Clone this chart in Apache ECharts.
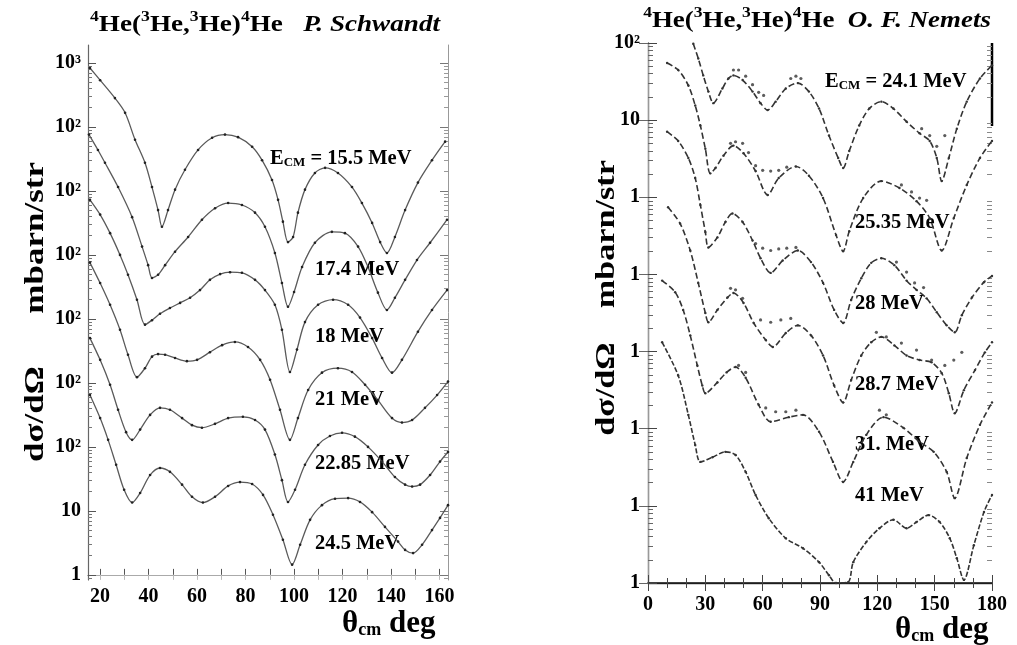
<!DOCTYPE html>
<html><head><meta charset="utf-8">
<script src="https://cdn.jsdelivr.net/npm/echarts@6/dist/echarts.min.js"></script>
<style>html,body{margin:0;padding:0;background:#fff}#c{width:1017px;height:645px}</style>
</head><body><div id="c"></div>
<script>
// ---- tick labels ----
const leftYLabels = ['1','10','10²','10²','10²','10²','10²','10²','10³'];
const rightYLabels = ['1','1','1','1','1','1','10','10²'];
const leftXTicks = [20,40,60,80,100,120,140,160];
const rightXTicks = [0,30,60,90,120,150,180];

// ---- left panel (P. Schwandt): [theta_cm deg, plotted decade] ----
const curve155 = [[15.8,7.92],[20.0,7.73],[26.1,7.45],[30.3,7.22],[34.4,6.80],[38.5,6.44],[41.4,6.06],[43.9,5.70],[45.5,5.44],[48.0,5.70],[50.9,6.02],[55.0,6.33],[60.4,6.64],[66.2,6.83],[71.5,6.88],[76.9,6.84],[82.7,6.69],[86.8,6.48],[90.9,6.17],[93.4,5.86],[95.4,5.52],[97.5,5.20],[99.6,5.28],[101.6,5.66],[104.5,6.02],[108.6,6.28],[112.8,6.36],[118.1,6.28],[123.9,6.06],[128.0,5.81],[132.2,5.50],[135.5,5.20],[138.3,5.03],[141.6,5.28],[145.8,5.70],[151.1,6.13],[156.9,6.48],[162.3,6.77]];
const curve174 = [[15.4,6.88],[19.1,6.64],[22.0,6.44],[27.4,6.06],[33.2,5.59],[37.3,5.13],[39.8,4.84],[41.4,4.64],[43.9,4.69],[46.8,4.84],[50.9,5.05],[56.3,5.28],[62.0,5.55],[67.4,5.73],[72.8,5.81],[78.5,5.78],[83.9,5.66],[88.0,5.44],[92.1,5.03],[95.0,4.56],[97.5,4.19],[100.0,4.42],[103.3,4.81],[108.6,5.19],[115.6,5.36],[121.0,5.34],[126.4,5.13],[130.5,4.81],[134.6,4.41],[138.3,4.14],[141.6,4.33],[145.8,4.61],[150.7,4.92],[156.1,5.19],[163.1,5.55]];
const curve18 = [[15.8,5.86],[20.0,5.63],[24.1,5.34],[28.2,5.00],[31.5,4.69],[35.2,4.30],[38.5,3.91],[41.4,3.98],[44.7,4.08],[48.8,4.17],[53.0,4.25],[57.1,4.33],[61.2,4.45],[65.3,4.61],[69.5,4.70],[73.6,4.73],[78.5,4.72],[83.9,4.61],[88.0,4.45],[92.1,4.22],[95.0,3.83],[98.3,3.17],[101.2,3.52],[104.5,3.95],[109.9,4.22],[116.1,4.30],[122.3,4.22],[127.2,4.02],[132.2,3.70],[136.3,3.39],[140.4,3.16],[144.5,3.36],[151.1,3.80],[156.9,4.14],[163.1,4.45]];
const curve21 = [[15.8,4.88],[20.0,4.56],[24.1,4.22],[28.2,3.83],[31.5,3.44],[35.2,3.09],[38.5,3.23],[41.4,3.41],[43.9,3.45],[46.8,3.44],[50.9,3.39],[55.8,3.34],[60.0,3.36],[65.3,3.48],[70.3,3.59],[75.6,3.64],[81.0,3.56],[86.0,3.36],[90.1,3.05],[94.2,2.58],[98.3,2.11],[101.6,2.45],[105.8,2.89],[111.5,3.16],[118.1,3.23],[123.9,3.17],[129.3,2.97],[134.6,2.73],[140.4,2.45],[144.5,2.38],[148.7,2.42],[154.0,2.61],[159.0,2.81],[163.5,3.02]];
const curve2285 = [[15.8,3.70],[20.0,3.36],[24.1,2.97],[27.4,2.58],[30.7,2.23],[33.2,2.11],[36.5,2.27],[40.6,2.50],[44.7,2.61],[48.8,2.58],[53.8,2.45],[57.9,2.34],[62.0,2.30],[67.4,2.36],[72.8,2.45],[78.9,2.47],[83.9,2.42],[88.0,2.27],[92.1,1.88],[95.0,1.48],[97.5,1.14],[100.4,1.33],[104.5,1.72],[109.9,2.03],[114.8,2.17],[119.8,2.22],[125.1,2.16],[130.5,2.00],[136.3,1.77],[141.6,1.53],[145.8,1.41],[148.7,1.38],[152.0,1.41],[156.1,1.56],[160.2,1.77],[163.5,1.92]];
const curve245 = [[15.8,2.81],[20.0,2.45],[23.3,2.11],[26.6,1.72],[29.9,1.33],[33.2,1.13],[36.5,1.28],[40.6,1.56],[44.7,1.67],[48.8,1.61],[53.8,1.41],[57.9,1.22],[62.4,1.13],[67.4,1.22],[72.8,1.39],[77.7,1.45],[82.7,1.42],[87.2,1.25],[91.3,0.94],[95.4,0.55],[99.2,0.16],[102.5,0.47],[106.6,0.86],[111.5,1.09],[116.9,1.19],[122.3,1.20],[127.2,1.14],[132.2,0.98],[137.5,0.75],[142.9,0.52],[145.8,0.39],[149.1,0.34],[152.8,0.47],[156.9,0.70],[160.2,0.89],[163.5,1.09]];

// ---- right panel (O. F. Nemets): theory curves ----
const curve241 = [[23.7,6.99],[26.3,6.80],[28.9,6.58],[31.6,6.37],[34.2,6.22],[38.9,6.41],[42.1,6.54],[44.7,6.58],[49.5,6.52],[54.7,6.37],[58.9,6.22],[62.6,6.13],[66.8,6.24],[72.1,6.41],[78.4,6.48],[84.2,6.37],[89.5,6.15],[94.7,5.80],[99.5,5.51],[102.1,5.38],[105.3,5.60],[110.5,5.93],[115.8,6.15],[122.1,6.24],[128.4,6.15],[135.3,5.98],[142.1,5.83],[147.4,5.73],[151.1,5.51],[153.7,5.21],[157.4,5.51],[161.6,5.89],[166.8,6.24],[173.7,6.54],[180.0,6.71]];
const curve2535 = [[10.0,6.74],[15.8,6.65],[21.1,6.45],[24.7,6.19],[27.4,5.93],[30.0,5.63],[32.6,5.31],[35.3,5.38],[39.5,5.54],[44.7,5.67],[50.0,5.57],[56.3,5.34],[62.6,5.03],[68.4,5.25],[77.4,5.40],[84.2,5.28],[91.6,4.99],[98.4,4.51],[102.1,4.30],[105.3,4.56],[112.6,4.99],[122.1,5.21],[131.6,5.12],[140.5,4.95],[147.4,4.73],[153.7,4.31],[160.0,4.73],[166.8,5.16],[173.7,5.51],[180.0,5.73]];
const curve28 = [[10.0,5.85],[15.8,5.73],[21.1,5.51],[24.7,5.25],[27.4,4.90],[30.0,4.55],[31.6,4.35],[36.3,4.48],[40.5,4.68],[44.2,4.79],[49.5,4.68],[54.7,4.44],[58.9,4.21],[64.2,4.02],[70.5,4.18],[78.4,4.31],[85.3,4.16],[91.6,3.89],[97.4,3.54],[102.1,3.37],[106.3,3.67],[111.6,3.95],[116.8,4.15],[122.1,4.21],[128.9,4.12],[135.3,3.92],[140.5,3.80],[145.8,3.69],[151.1,3.51],[156.3,3.34],[160.5,3.25],[164.2,3.47],[169.5,3.70],[175.8,3.90],[180.0,3.98]];
const curve287 = [[10.5,4.87],[16.8,4.66],[22.1,4.31],[26.3,3.89],[30.0,3.50],[31.6,3.38],[36.3,3.54],[41.6,3.70],[44.7,3.76],[50.0,3.63],[55.3,3.37],[61.6,3.15],[65.3,3.06],[72.1,3.24],[78.4,3.34],[85.3,3.21],[91.6,2.95],[97.4,2.56],[102.1,2.34],[106.3,2.63],[111.6,2.95],[116.8,3.12],[122.1,3.19],[128.9,3.08],[135.3,2.95],[142.1,2.89],[148.4,2.86],[153.7,2.72],[157.4,2.46],[160.5,2.20],[165.3,2.50],[171.1,2.76],[176.3,2.99],[180.0,3.12]];
const curve31 = [[7.4,3.92],[14.2,3.77],[18.4,3.54],[22.1,3.21],[25.8,2.82],[28.4,2.56],[30.0,2.46],[36.3,2.60],[41.1,2.73],[45.8,2.80],[51.1,2.66],[57.9,2.31],[64.2,2.09],[73.7,2.15],[81.1,2.18],[89.5,1.96],[96.8,1.57],[102.1,1.31],[107.4,1.57],[114.2,1.92],[123.2,2.15],[133.7,2.01],[142.1,1.83],[149.5,1.70],[156.3,1.44],[160.5,1.10],[166.8,1.62],[173.7,2.05],[180.0,2.34]];
const curve41 = [[7.4,3.12],[15.8,2.69],[21.1,2.18],[24.7,1.79],[27.4,1.57],[33.7,1.63],[40.5,1.70],[45.8,1.66],[51.1,1.44],[56.3,1.14],[63.2,0.84],[72.1,0.58],[81.1,0.45],[89.5,0.27],[94.7,0.10],[98.4,0.00],[104.7,0.01],[107.4,0.27],[114.2,0.53],[121.1,0.71],[128.4,0.82],[135.3,0.71],[140.5,0.79],[146.8,0.88],[152.6,0.79],[157.9,0.58],[161.6,0.32],[165.3,0.04],[170.5,0.49],[175.8,0.92],[180.0,1.14]];

// ---- right panel: measured points where they leave the curves ----
const pts241 = [[44.7,6.65],[47.4,6.65],[51.1,6.57],[54.7,6.46],[57.9,6.36],[60.5,6.32],[74.7,6.54],[77.4,6.57],[80.0,6.54],[143.2,5.89],[147.4,5.80],[151.1,5.66],[155.3,5.80]];
const pts2535 = [[43.2,5.70],[45.8,5.72],[49.5,5.70],[52.6,5.58],[56.3,5.41],[60.0,5.35],[64.2,5.34],[68.4,5.35],[72.6,5.39],[132.6,5.16],[137.9,5.07],[142.1,4.99],[145.8,4.96]];
const pts28 = [[56.3,4.40],[60.0,4.34],[64.2,4.31],[68.4,4.33],[72.6,4.34],[77.4,4.35],[130.0,4.16],[135.3,4.03],[139.5,3.89],[144.2,3.83]];
const pts287 = [[43.2,3.82],[45.8,3.80],[49.5,3.69],[58.9,3.41],[64.2,3.38],[69.5,3.41],[74.7,3.43],[119.5,3.25],[124.7,3.19],[132.6,3.11],[140.5,3.02],[148.4,2.89],[155.3,2.82],[160.0,2.89],[164.2,2.99]];
const pts31 = [[47.4,2.82],[51.1,2.73],[61.6,2.27],[66.8,2.22],[72.1,2.22],[77.4,2.24],[121.1,2.24],[124.7,2.18]];

const FONT = '"Liberation Serif","DejaVu Serif",serif';

function logMinor(lo, hi) {
  const out = [];
  for (let k = Math.floor(lo) - 1; k <= Math.ceil(hi); k++) {
    for (let m = 2; m <= 9; m++) {
      const v = k + Math.log10(m);
      if (v > lo && v < hi) out.push(+v.toFixed(4));
    }
  }
  return out;
}
const LMIN = -0.08, LMAX = 8.28, RMIN = 0, RMAX = 7;
const leftMajor = leftYLabels.map((_, i) => i);
const leftXMinor = []; for (let v = 20; v <= 160; v += 10) leftXMinor.push(v);

const chart = echarts.init(document.getElementById('c'), null, {renderer: 'canvas'});

const lblStyle = {fontFamily: FONT, fontWeight: 'bold', fontSize: 20, color: '#000'};

function leftLine(data) {
  return {type: 'line', xAxisIndex: 0, yAxisIndex: 0, data, smooth: 0.3,
    symbol: 'circle', symbolSize: 2.6, showSymbol: true,
    lineStyle: {color: '#5a5a5a', width: 1.3}, itemStyle: {color: '#222'},
    silent: true, animation: false};
}
function rightLine(data, dash) {
  return {type: 'line', xAxisIndex: 2, yAxisIndex: 2, data, smooth: 0.3,
    symbol: 'circle', symbolSize: 2.4, showSymbol: true,
    lineStyle: {color: '#333', width: 1.6, type: dash || [6, 3]}, itemStyle: {color: '#333'},
    silent: true, animation: false};
}
function rightPts(data) {
  return {type: 'scatter', xAxisIndex: 2, yAxisIndex: 2, data, symbolSize: 3.2,
    itemStyle: {color: '#333'}, silent: true, animation: false};
}

function txt(x, y, rich, parts, align, sx) {
  return {type: 'text', x, y, scaleX: sx || 1, silent: true,
    style: {text: parts, rich, align: align || 'left', verticalAlign: 'middle', fill: '#000'}};
}
function vtxt(x, y, text, sx) {
  return {type: 'text', x, y, rotation: Math.PI / 2, scaleX: sx, silent: true,
    style: {text, font: 'bold 28px ' + FONT, fill: '#000', align: 'center', verticalAlign: 'middle'}};
}
const richLbl = {
  b: {fontFamily: FONT, fontWeight: 'bold', fontSize: 20.5, fill: '#000', lineHeight: 24, verticalAlign: 'bottom'},
  s: {fontFamily: FONT, fontWeight: 'bold', fontSize: 13, fill: '#000', lineHeight: 14, verticalAlign: 'bottom'}
};
const richTitle = {
  n: {fontFamily: FONT, fontWeight: 'bold', fontSize: 23, fill: '#000', lineHeight: 27, verticalAlign: 'bottom'},
  p: {fontFamily: FONT, fontWeight: 'bold', fontSize: 15, fill: '#000', lineHeight: 15, verticalAlign: 'top'},
  i: {fontFamily: FONT, fontWeight: 'bold', fontStyle: 'italic', fontSize: 23, fill: '#000', lineHeight: 27, verticalAlign: 'bottom'}
};
const richAx = {
  b: {fontFamily: FONT, fontWeight: 'bold', fontSize: 31, fill: '#000', lineHeight: 34, verticalAlign: 'bottom'},
  s: {fontFamily: FONT, fontWeight: 'bold', fontSize: 18, fill: '#000', lineHeight: 16, verticalAlign: 'bottom'}
};
const titleHead = '{p|4}{n|He(}{p|3}{n|He,}{p|3}{n|He)}{p|4}{n|He}';

const option = {
  backgroundColor: '#fff',
  animation: false,
  grid: [
    {left: 88, top: 45, width: 360, height: 535},
    {left: 648, top: 43, width: 344, height: 540},
    {left: 88, top: 45, width: 360, height: 535},
    {left: 648, top: 43, width: 344, height: 540}
  ],
  xAxis: [
    {gridIndex: 0, type: 'value', min: 15, max: 163.5, position: 'bottom',
      axisLine: {lineStyle: {color: '#666', width: 1.2}},
      axisTick: {inside: true, length: 6, customValues: leftXMinor, lineStyle: {color: '#555'}},
      axisLabel: Object.assign({customValues: leftXTicks, margin: 7}, lblStyle),
      splitLine: {show: false}},
    {gridIndex: 0, type: 'value', min: 15, max: 163.5, position: 'top',
      axisLine: {lineStyle: {color: '#aaa', width: 1}},
      axisTick: {inside: true, length: 5, customValues: leftXMinor, lineStyle: {color: '#bbb'}},
      axisLabel: {show: false}, splitLine: {show: false}},
    {gridIndex: 1, type: 'value', min: 0, max: 180, interval: 30, position: 'bottom',
      axisLine: {lineStyle: {color: '#444', width: 1.4}},
      axisTick: {inside: true, length: 8, lineStyle: {color: '#444'}},
      minorTick: {show: true, splitNumber: 3, length: 5, lineStyle: {color: '#444'}},
      axisLabel: Object.assign({margin: 12}, lblStyle),
      splitLine: {show: false}},
    {gridIndex: 1, type: 'value', min: 0, max: 180, interval: 30, position: 'top',
      axisLine: {lineStyle: {color: '#111', width: 1.6}},
      axisTick: {inside: true, length: 8, lineStyle: {color: '#444'}},
      minorTick: {show: true, splitNumber: 3, length: 5, lineStyle: {color: '#444'}},
      axisLabel: {show: false}, splitLine: {show: false}},
    {gridIndex: 2, type: 'value', min: 15, max: 163.5, show: false},
    {gridIndex: 3, type: 'value', min: 0, max: 180, show: false}
  ],
  yAxis: [
    {gridIndex: 0, type: 'value', min: LMIN, max: LMAX, position: 'left',
      axisLine: {show: true, lineStyle: {color: '#666', width: 1.2}},
      axisTick: {inside: true, length: 8, customValues: leftMajor, lineStyle: {color: '#555'}},
      axisLabel: Object.assign({customValues: leftMajor, margin: 7,
        formatter: v => leftYLabels[Math.round(v)]}, lblStyle),
      splitLine: {show: false}},
    {gridIndex: 0, type: 'value', min: LMIN, max: LMAX, position: 'right',
      axisLine: {show: true, lineStyle: {color: '#999', width: 1}},
      axisTick: {inside: true, length: 8, customValues: leftMajor, lineStyle: {color: '#777'}},
      axisLabel: {show: false}, splitLine: {show: false}},
    {gridIndex: 1, type: 'value', min: RMIN, max: RMAX, interval: 1, position: 'left',
      axisLine: {show: true, lineStyle: {color: '#555', width: 1.3}},
      axisTick: {inside: true, length: 9, lineStyle: {color: '#444'}},
      axisLabel: Object.assign({margin: 8, formatter: v => rightYLabels[Math.round(v)]}, lblStyle),
      splitLine: {show: false}},
    {gridIndex: 1, type: 'value', min: RMIN, max: RMAX, interval: 1, position: 'right',
      axisLine: {show: true, lineStyle: {color: '#999', width: 1.2}},
      axisTick: {inside: true, length: 9, lineStyle: {color: '#666'}},
      axisLabel: {show: false}, splitLine: {show: false}},
    {gridIndex: 2, type: 'value', min: LMIN, max: LMAX, position: 'left',
      axisLine: {show: false},
      axisTick: {show: true, inside: true, length: 4, customValues: logMinor(LMIN, LMAX), lineStyle: {color: '#777'}},
      axisLabel: {show: false}, splitLine: {show: false}},
    {gridIndex: 2, type: 'value', min: LMIN, max: LMAX, position: 'right',
      axisLine: {show: false},
      axisTick: {show: true, inside: true, length: 4, customValues: logMinor(LMIN, LMAX), lineStyle: {color: '#999'}},
      axisLabel: {show: false}, splitLine: {show: false}},
    {gridIndex: 3, type: 'value', min: RMIN, max: RMAX, position: 'left',
      axisLine: {show: false},
      axisTick: {show: true, inside: true, length: 5, customValues: logMinor(RMIN, RMAX), lineStyle: {color: '#666'}},
      axisLabel: {show: false}, splitLine: {show: false}},
    {gridIndex: 3, type: 'value', min: RMIN, max: RMAX, position: 'right',
      axisLine: {show: false},
      axisTick: {show: true, inside: true, length: 5, customValues: logMinor(RMIN, RMAX), lineStyle: {color: '#888'}},
      axisLabel: {show: false}, splitLine: {show: false}}
  ],
  series: [
    leftLine(curve155), leftLine(curve174), leftLine(curve18),
    leftLine(curve21), leftLine(curve2285), leftLine(curve245),
    rightLine(curve241), rightLine(curve2535), rightLine(curve28),
    rightLine(curve287), rightLine(curve31), rightLine(curve41, [5, 2]),
    rightPts(pts241), rightPts(pts2535), rightPts(pts28), rightPts(pts287), rightPts(pts31),
    {type: 'scatter', xAxisIndex: 4, yAxisIndex: 4, data: [], silent: true},
    {type: 'scatter', xAxisIndex: 5, yAxisIndex: 6, data: [], silent: true}
  ],
  graphic: [
    txt(265, 23, richTitle, titleHead + '{i|   P. Schwandt}', 'center', 1.18),
    txt(817, 19, richTitle, titleHead + '{i|  O. F. Nemets}', 'center', 1.17),
    vtxt(36, 312, 'dσ/dΩ      mbarn/str', 1.25),
    vtxt(607, 298, 'dσ/dΩ    mbarn/str', 1.22),
    txt(270, 157, richLbl, '{b|E}{s|CM}{b| = 15.5 MeV}'),
    txt(315, 268, richLbl, '{b|17.4 MeV}'),
    txt(315, 335, richLbl, '{b|18 MeV}'),
    txt(315, 398, richLbl, '{b|21 MeV}'),
    txt(315, 462, richLbl, '{b|22.85 MeV}'),
    txt(315, 542, richLbl, '{b|24.5 MeV}'),
    txt(825, 80, richLbl, '{b|E}{s|CM}{b| = 24.1 MeV}'),
    txt(855, 221, richLbl, '{b|25.35 MeV}'),
    txt(855, 302, richLbl, '{b|28 MeV}'),
    txt(855, 383, richLbl, '{b|28.7 MeV}'),
    txt(855, 443, richLbl, '{b|31. MeV}'),
    txt(855, 494, richLbl, '{b|41 MeV}'),
    txt(342, 622, richAx, '{b|θ}{s|cm}{b| deg}'),
    txt(895, 628, richAx, '{b|θ}{s|cm}{b| deg}'),
    {type: 'line', silent: true, shape: {x1: 992, y1: 43, x2: 992, y2: 126},
      style: {stroke: '#000', lineWidth: 2.5}}
  ]
};
chart.setOption(option);
</script></body></html>
